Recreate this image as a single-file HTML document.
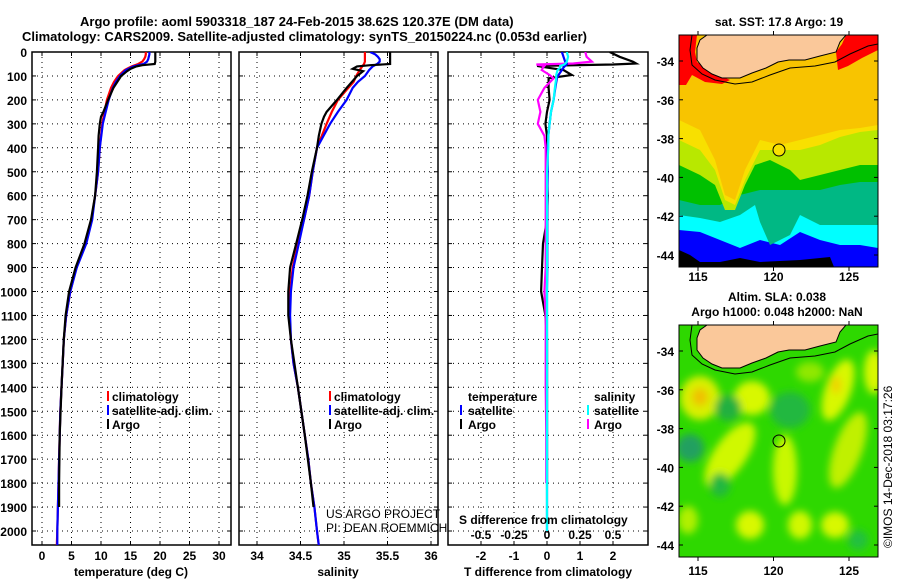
<!DOCTYPE html>
<html><head><meta charset="utf-8"><style>
html,body{margin:0;padding:0;background:#fff;}
svg{display:block;font-family:"Liberation Sans",sans-serif;}
.b{font-weight:bold;font-size:12px;}
.t{font-weight:bold;font-size:13px;}
</style></head><body>
<svg id="chart" width="900" height="580" viewBox="0 0 900 580" xmlns="http://www.w3.org/2000/svg">
<defs>
<clipPath id="c1"><rect x="32" y="52" width="199" height="493"/></clipPath>
<clipPath id="c2"><rect x="239" y="52" width="199" height="493"/></clipPath>
<clipPath id="c3"><rect x="448" y="52" width="200" height="493"/></clipPath>
<clipPath id="m1"><rect x="679" y="35" width="199" height="232"/></clipPath>
<clipPath id="m2"><rect x="679" y="325" width="199" height="232"/></clipPath>
<filter id="bl" x="-50%" y="-50%" width="200%" height="200%"><feGaussianBlur stdDeviation="4"/></filter>
</defs>
<text class="t" x="80" y="26">Argo profile: aoml 5903318_187 24-Feb-2015 38.62S 120.37E (DM data)</text>
<text class="t" x="22" y="41">Climatology: CARS2009. Satellite-adjusted climatology: synTS_20150224.nc (0.053d earlier)</text>

<g id="grids"></g>
<g id="marks"></g>

<g class="b">
<rect x="107" y="391" width="2" height="10" fill="#f00"/><text x="112" y="401">climatology</text>
<rect x="107" y="405" width="2" height="10" fill="#00f"/><text x="112" y="415">satellite-adj. clim.</text>
<rect x="107" y="419" width="2" height="10" fill="#000"/><text x="112" y="429">Argo</text>
</g>
<g class="b">
<rect x="329" y="391" width="2" height="10" fill="#f00"/><text x="334" y="401">climatology</text>
<rect x="329" y="405" width="2" height="10" fill="#00f"/><text x="334" y="415">satellite-adj. clim.</text>
<rect x="329" y="419" width="2" height="10" fill="#000"/><text x="334" y="429">Argo</text>
</g>
<g class="b">
<text x="468" y="401">temperature</text>
<rect x="460" y="405" width="2" height="10" fill="#00f"/><text x="468" y="415">satellite</text>
<rect x="460" y="419" width="2" height="10" fill="#000"/><text x="468" y="429">Argo</text>
<text x="594" y="401">salinity</text>
<rect x="587" y="405" width="2" height="10" fill="#0ff"/><text x="594" y="415">satellite</text>
<rect x="587" y="419" width="2" height="10" fill="#f0f"/><text x="594" y="429">Argo</text>
</g>
<text x="326" y="518" font-size="12">US ARGO PROJECT</text>
<text x="326" y="532" font-size="12">PI: DEAN ROEMMICH</text>
<text class="b" x="459" y="524">S difference from climatology</text>
<text class="b" x="131" y="576" text-anchor="middle">temperature (deg C)</text>
<text class="b" x="338" y="576" text-anchor="middle">salinity</text>
<text class="b" x="548" y="576" text-anchor="middle">T difference from climatology</text>

<g>
<text class="b" x="779" y="26" text-anchor="middle">sat. SST: 17.8 Argo: 19</text>
<g clip-path="url(#m1)">
<rect x="679" y="35" width="199" height="232" fill="#0000ff"/>
<polygon fill="#00ffff" points="679,35 878,35 878,248 860,245 840,245 820,240 800,232 780,245 760,240 740,248 720,240 700,232 679,230"/>
<polygon fill="#00b884" points="679,35 878,35 878,225 860,225 840,225 820,225 800,215 790,235 770,245 760,222 755,205 740,215 720,222 700,218 679,215"/>
<polygon fill="#00c000" points="679,35 878,35 878,182 860,182 840,185 820,190 800,190 780,190 760,190 740,195 720,205 700,205 679,200"/>
<polygon fill="#b8e800" points="679,35 878,35 878,165 860,165 840,170 820,175 800,180 790,170 770,160 755,165 745,185 735,210 725,210 715,185 700,175 679,165"/>
<polygon fill="#f8e000" points="679,35 878,35 878,130 860,132 840,137 820,145 800,150 780,150 760,150 745,180 735,205 725,200 715,170 700,150 679,140"/>
<polygon fill="#f8c400" points="679,35 878,35 878,125 860,128 840,130 820,135 800,140 780,145 760,140 745,170 735,200 725,195 715,160 700,130 679,120"/>
<polygon fill="#000" points="679,250 690,255 700,262 720,262 740,258 760,262 800,260 830,257 834,267 679,267"/>
<polygon fill="#ff0000" points="679,35 697,35 695,52 697,62 712,72 730,80 722,84 705,82 692,75 686,85 679,85"/>
<polygon fill="#ff0000" points="846,35 878,35 878,50 862,58 848,66 838,70 836,52 842,44"/>
<path fill="#fac89a" stroke="#000" stroke-width="1" d="M707,35 L700,40 L697,48 L697,60 L703,68 L712,74 L722,78 L740,78 L752,73 L766,68 L778,62 L789,60 L805,60 L820,56 L836,52 L840,42 L846,35 Z"/>
<path fill="none" stroke="#000" stroke-width="1" d="M692,35 L690,50 L692,65 L702,74 L715,80 L735,84 L752,82 L770,75 L790,68 L815,66 L835,62 L850,54 L868,46 L878,44"/>
<circle cx="779" cy="150" r="6" fill="#f8e000" stroke="#000" stroke-width="1"/>
</g>
<rect x="679" y="35" width="199" height="232" fill="none" stroke="#000" stroke-width="1"/>
</g>

<g>
<text class="b" x="777" y="301" text-anchor="middle">Altim. SLA: 0.038</text>
<text class="b" x="777" y="316" text-anchor="middle">Argo h1000: 0.048 h2000: NaN</text>
<g clip-path="url(#m2)">
<rect x="679" y="325" width="199" height="232" fill="#2ed800"/>
<g filter="url(#bl)">
<ellipse cx="700" cy="398" rx="20" ry="22" fill="#d8f000"/>
<ellipse cx="700" cy="397" rx="8" ry="9" fill="#f0c000"/>
<ellipse cx="752" cy="398" rx="18" ry="17" fill="#d8f800"/>
<ellipse cx="838" cy="390" rx="13" ry="32" fill="#d8f800" transform="rotate(20 838 390)"/>
<ellipse cx="836" cy="385" rx="5" ry="9" fill="#f0d000"/>
<ellipse cx="874" cy="372" rx="10" ry="22" fill="#d8f800"/>
<ellipse cx="730" cy="455" rx="16" ry="38" fill="#d0f800" transform="rotate(35 730 455)"/>
<ellipse cx="785" cy="470" rx="12" ry="35" fill="#c8f800"/>
<ellipse cx="848" cy="450" rx="14" ry="40" fill="#c0f000" transform="rotate(20 848 450)"/>
<ellipse cx="810" cy="372" rx="14" ry="10" fill="#90e800"/>
<ellipse cx="750" cy="525" rx="14" ry="14" fill="#d8f800"/>
<ellipse cx="800" cy="525" rx="12" ry="14" fill="#d0f800"/>
<ellipse cx="835" cy="525" rx="14" ry="13" fill="#d8f800"/>
<ellipse cx="688" cy="520" rx="10" ry="14" fill="#b0f000"/>
<ellipse cx="690" cy="448" rx="14" ry="14" fill="#20a060"/>
<ellipse cx="728" cy="408" rx="13" ry="13" fill="#22b040"/>
<ellipse cx="790" cy="410" rx="20" ry="18" fill="#22b840"/>
<ellipse cx="720" cy="485" rx="10" ry="12" fill="#22b840"/>
<ellipse cx="858" cy="540" rx="10" ry="10" fill="#22c040"/>
</g>
<g transform="translate(0,290)">
<path fill="#fac89a" stroke="#000" stroke-width="1" d="M707,35 L700,40 L697,48 L697,60 L703,68 L712,74 L722,78 L740,78 L752,73 L766,68 L778,62 L789,60 L805,60 L820,56 L836,52 L840,42 L846,35 Z"/>
<path fill="none" stroke="#000" stroke-width="1" d="M692,35 L690,50 L692,65 L702,74 L715,80 L735,84 L752,82 L770,75 L790,68 L815,66 L835,62 L850,54 L868,46 L878,44"/>
</g>
<circle cx="779" cy="441" r="6" fill="none" stroke="#000" stroke-width="1"/>
</g>
<rect x="679" y="325" width="199" height="232" fill="none" stroke="#000" stroke-width="1"/>
</g>
<g id="maplabels"></g>
<text x="892" y="548" font-size="12" transform="rotate(-90 892 548)">©IMOS 14-Dec-2018 03:17:26</text>
</svg>
<script>
const climDepth = [0,10,20,30,40,50,60,75,100,125,150,200,250,300,400,500,600,700,800,900,1000,1100,1200,1300,1400,1500,1600,1700,1800,1900,2000,2060];
const tempClim = [17.6,17.6,17.5,17.3,17.0,16.3,15.2,14.0,12.9,12.2,11.7,11.0,10.6,10.2,9.8,9.5,9.0,8.4,7.4,5.8,4.8,4.1,3.7,3.5,3.3,3.1,3.0,2.9,2.8,2.7,2.6,2.5];
const tempSat = [18.2,18.2,18.1,18.0,17.8,17.2,15.5,14.2,13.2,12.5,12.0,11.3,10.8,10.3,9.8,9.5,9.0,8.5,7.5,5.9,4.8,4.1,3.7,3.5,3.3,3.1,3.0,2.9,2.8,2.7,2.6,2.6];
const salClim = [35.24,35.24,35.24,35.24,35.24,35.23,35.21,35.18,35.14,35.11,35.05,34.93,34.86,34.8,34.69,34.64,34.6,34.54,34.47,34.41,34.38,34.37,34.39,34.42,34.47,34.51,34.55,34.59,34.62,34.66,34.69,34.71];
const salSat = [35.30,35.36,35.39,35.41,35.41,35.38,35.33,35.29,35.24,35.16,35.1,35.03,34.93,34.84,34.69,34.64,34.6,34.54,34.48,34.42,34.39,34.38,34.39,34.42,34.47,34.51,34.55,34.59,34.62,34.66,34.69,34.71];
const argoDepth = [0,10,20,30,40,50,55,60,70,80,100,150,200,250,270,300,350,400,500,600,700,800,900,1000,1100,1200,1400,1600,1800,1900];
const argoTemp = [19.2,19.2,19.2,19.2,19.2,19.1,17.0,16.0,15.0,14.4,13.4,12.1,11.2,10.4,10.0,9.8,9.6,9.5,9.3,9.0,8.3,7.2,5.7,4.6,4.0,3.7,3.3,3.0,2.9,2.9];
const argoSal = [35.53,35.53,35.53,35.53,35.53,35.53,35.3,35.15,35.1,35.22,35.15,35.03,34.92,34.8,34.77,34.74,34.71,34.69,34.63,34.58,34.52,34.45,34.38,34.36,34.36,34.39,34.47,34.55,34.62,34.65];
const diffDepth = [0,20,40,48,52,58,65,75,96,110,150,200,250,300,350,400,500,600,700,800,900,1000,1100,1200,1400,1600,1800,2000];
const tDiffArgo = [1.9,2.2,2.6,2.7,2.0,-0.3,0.0,0.5,0.75,0.05,0.05,0.08,0.0,-0.05,0.0,0.0,0.0,0.02,0.0,-0.12,-0.15,-0.18,-0.05,0.0,0.0,0.0,0.0,null];
const tDiffSat = [0.45,0.5,0.55,0.6,0.6,0.55,0.5,0.45,0.35,0.3,0.25,0.2,0.12,0.08,0.04,0.02,0.02,0.01,0.01,0.01,0.01,0.0,0.0,0.0,0.0,0.0,0.0,0.0];
const sDiffSat = [0.15,0.16,0.15,0.14,0.13,0.1,0.1,0.08,0.07,0.07,0.06,0.05,0.03,0.02,0.01,0.01,0.0,0.0,0.0,0.0,0.0,0.0,0.0,0.0,0.0,0.0,0.0,0.0];
const sDiffArgo = [0.29,0.3,0.34,0.2,-0.08,-0.02,-0.03,-0.04,0.02,0.05,-0.02,-0.07,-0.05,-0.07,-0.02,-0.01,-0.01,-0.01,-0.01,-0.01,-0.01,-0.02,-0.01,-0.01,-0.01,-0.005,-0.005,null];
const depthTicks = [0,100,200,300,400,500,600,700,800,900,1000,1100,1200,1300,1400,1500,1600,1700,1800,1900,2000];
const tempTicks = [0,5,10,15,20,25,30];
const salTicks = ["34","34.5","35","35.5","36"];
const tdTicks = [-2,-1,0,1,2];
const sdTicks = ["-0.5","-0.25","0","0.25","0.5"];
const lonTicks = [115,120,125];
const latTicks = [-34,-36,-38,-40,-42,-44];

const NS="http://www.w3.org/2000/svg";
const yD = d => 52 + d*0.2395;
const xT = t => 42 + t*5.9;
const xS = s => 257 + (s-34)*87;
const xTD = v => 547 + v*33;
const xSD = v => 547 + v*132;
const xLon = l => 698 + (l-115)*15.1;
const yLat1 = l => 61 + (-34-l)*19.4;
const yLat2 = l => 351 + (-34-l)*19.4;

function mk(tag, attrs, parent){const e=document.createElementNS(NS,tag);for(const k in attrs)e.setAttribute(k,attrs[k]);parent.appendChild(e);return e;}
const grids=document.getElementById('grids');
const marks=document.getElementById('marks');
const ml=document.getElementById('maplabels');

const panels=[
 {x0:32,x1:231,name:'temperature-panel',ticks:tempTicks.map(v=>[xT(v),String(v)])},
 {x0:239,x1:438,name:'salinity-panel',ticks:salTicks.map(v=>[xS(parseFloat(v)),v])},
 {x0:448,x1:648,name:'difference-panel',ticks:tdTicks.map(v=>[xTD(v),String(v)])}
];
panels.forEach((p)=>{
  const g=mk('g',{},grids);
  
  
  depthTicks.forEach(d=>{
    const y=yD(d);
    mk('line',{x1:p.x0,x2:p.x1,y1:y,y2:y,stroke:'#000','stroke-width':1,'stroke-dasharray':'1,4'},g);
    mk('line',{x1:p.x0,x2:p.x0+4,y1:y,y2:y,stroke:'#000'},g);
    mk('line',{x1:p.x1-4,x2:p.x1,y1:y,y2:y,stroke:'#000'},g);
  });
  p.ticks.forEach(([x,lab])=>{
    mk('line',{x1:x,x2:x,y1:52,y2:545,stroke:'#000','stroke-width':1,'stroke-dasharray':'1,4'},g);
    mk('line',{x1:x,x2:x,y1:52,y2:56,stroke:'#000'},g);
    mk('line',{x1:x,x2:x,y1:541,y2:545,stroke:'#000'},g);
    const t=mk('text',{x:x,y:560,'text-anchor':'middle',class:'b'},g);
    t.textContent=lab;
    
    
  });
  mk('rect',{x:p.x0,y:52,width:p.x1-p.x0,height:493,fill:'none',stroke:'#000','stroke-width':1.5},g);
});
depthTicks.forEach(d=>{
  const t=mk('text',{x:27,y:yD(d)+5,'text-anchor':'end',class:'b'},grids);
  t.textContent=String(d);
  
  
});
sdTicks.forEach(v=>{
  const t=mk('text',{x:xSD(parseFloat(v)),y:539,'text-anchor':'middle',class:'b'},grids);
  t.textContent=v;
  
  
});

function line(depths, vals, xf, color, clip, name){
  let segs=[],cur=[];
  depths.forEach((d,i)=>{const v=vals[i]; if(v===null||v===undefined){if(cur.length)segs.push(cur);cur=[];} else cur.push(xf(v).toFixed(1)+','+yD(d).toFixed(1));});
  if(cur.length)segs.push(cur);
  segs.forEach(s=>{
    const e=mk('polyline',{points:s.join(' '),fill:'none',stroke:color,'stroke-width':2.2,'clip-path':'url(#'+clip+')'},marks);
    
    
  });
}
line(climDepth,tempClim,xT,'#f00','c1','temp-climatology-line');
line(climDepth,tempSat,xT,'#00f','c1','temp-satellite-line');
line(argoDepth,argoTemp,xT,'#000','c1','temp-argo-line');
line(climDepth,salClim,xS,'#f00','c2','sal-climatology-line');
line(climDepth,salSat,xS,'#00f','c2','sal-satellite-line');
line(argoDepth,argoSal,xS,'#000','c2','sal-argo-line');
line(diffDepth,tDiffArgo,xTD,'#000','c3','t-diff-argo-line');
line(diffDepth,sDiffArgo,xSD,'#f0f','c3','s-diff-argo-line');
line(diffDepth,tDiffSat,xTD,'#00f','c3','t-diff-satellite-line');
line(diffDepth,sDiffSat,xSD,'#0ff','c3','s-diff-satellite-line');

[[yLat1,35,267,281],[yLat2,325,557,575]].forEach(([yf,top,bot,ly])=>{
  latTicks.forEach(l=>{
    const y=yf(l);
    mk('line',{x1:679,x2:683,y1:y,y2:y,stroke:'#000'},ml);
    mk('line',{x1:874,x2:878,y1:y,y2:y,stroke:'#000'},ml);
    const t=mk('text',{x:674,y:y+5,'text-anchor':'end',class:'b'},ml);
    t.textContent=String(l);
    
    
  });
  lonTicks.forEach(l=>{
    const x=xLon(l);
    mk('line',{x1:x,x2:x,y1:top-4,y2:top,stroke:'#000'},ml);
    mk('line',{x1:x,x2:x,y1:bot,y2:bot+4,stroke:'#000'},ml);
    const t=mk('text',{x:x,y:ly,'text-anchor':'middle',class:'b'},ml);
    t.textContent=String(l);
    
    
  });
});
</script>
</body></html>
